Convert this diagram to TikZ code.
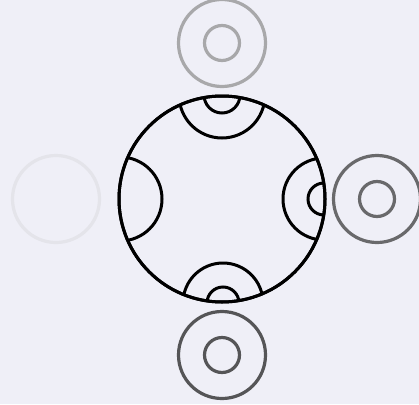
\documentclass[tikz,border=0pt]{standalone}
\usetikzlibrary{positioning}
\definecolor{Backdrop}{RGB}{239,239,247}
\definecolor{RingTop}{RGB}{168,168,170}
\definecolor{RingLeft}{RGB}{228,228,234}
\definecolor{RingRight}{RGB}{105,105,107}
\definecolor{RingBottom}{RGB}{85,85,87}
\tikzset{
  hub/.style={circle,draw=black,line width=3pt,minimum size=206pt,inner sep=0pt,outer sep=0pt},
  ring/.style={circle,line width=3.2pt,minimum size=87pt,inner sep=0pt,outer sep=0pt},
  core/.style={circle,line width=3.2pt,minimum size=35pt,inner sep=0pt,outer sep=0pt},
  groove/.style={draw=black,line width=3pt}
}
\begin{document}
\begin{tikzpicture}[x=1pt,y=-1pt]
\fill[Backdrop] (0,0) rectangle (419,404);
\useasboundingbox (0,0) rectangle (419,404);

\node[hub] (hub) at (222,199) {};

\node[ring,draw=RingTop] (top) at (222,43) {};
\node[core,draw=RingTop] (topcore) at (top.center) {};
\node[ring,draw=RingLeft] (left) at (56,199) {};
\node[ring,draw=RingRight] (right) at (377,199) {};
\node[core,draw=RingRight] (rightcore) at (right.center) {};
\node[ring,draw=RingBottom] (bottom) at (222,355) {};
\node[core,draw=RingBottom] (bottomcore) at (bottom.center) {};

% grooves left by the rings inside the hub
\coordinate (tn) at ([yshift=1pt]hub.north);
\coordinate (tw) at ([xshift=1pt]hub.west);
\coordinate (te) at ([xshift=-1pt]hub.east);
\coordinate (ts) at ([xshift=1pt,yshift=-1pt]hub.south);
\begin{scope}
\clip (hub.center) circle[radius=103pt];
\draw[groove] (tn) circle[radius=43pt];
\draw[groove] (tn) circle[radius=18pt];
\draw[groove] (tw) circle[radius=42pt];
\draw[groove] (te) circle[radius=41pt];
\draw[groove] (te) circle[radius=16pt];
\draw[groove] (ts) circle[radius=40pt];
\draw[groove] (ts) circle[radius=16pt];
\end{scope}
\node[hub] at (hub.center) {};
\end{tikzpicture}
\end{document}
